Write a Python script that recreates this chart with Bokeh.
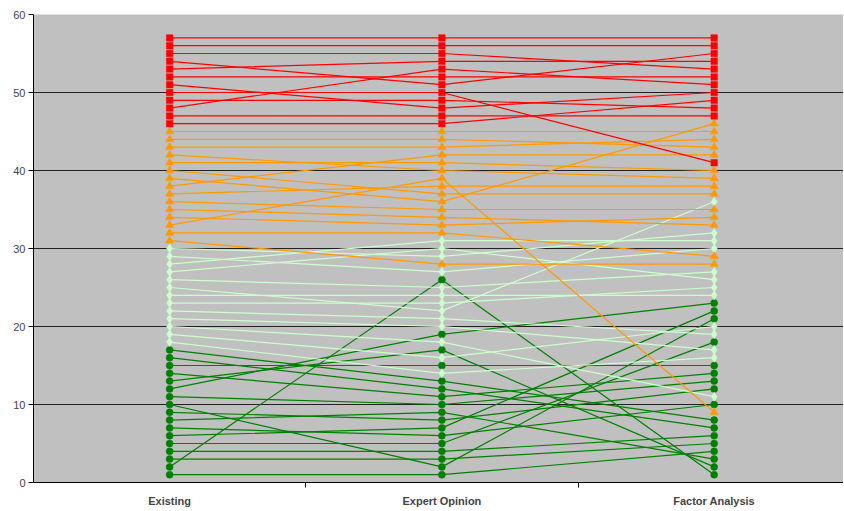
from bokeh.plotting import figure
from bokeh.models import Range1d, FixedTicker
from bokeh.embed import file_html
from bokeh.resources import INLINE

categories = ["Existing", "Expert Opinion", "Factor Analysis"]

# ranks of each item under the three methods (ordered by existing rank)
existing = list(range(1, 58))
expert = [1, 26, 3, 4, 5, 7, 6, 9, 8, 2, 10, 19, 17, 11, 15, 12, 13,
          14, 16, 18, 20, 21, 23, 24, 22, 25, 30, 31, 27, 29,
          28, 32, 39, 33, 34, 35, 38, 42, 36, 37, 41, 40, 43, 44, 45,
          46, 47, 53, 49, 50, 48, 52, 54, 51, 55, 56, 57]
factor = [4, 1, 5, 6, 18, 22, 10, 3, 12, 21, 13, 23, 2, 14, 15, 7, 8,
          16, 20, 11, 17, 19, 25, 24, 36, 27, 26, 31, 30, 32,
          28, 29, 9, 34, 33, 35, 38, 42, 46, 37, 40, 39, 44, 43, 45,
          49, 47, 51, 48, 41, 50, 52, 54, 55, 53, 56, 57]

# group boundaries by existing rank
group_names = ["low", "midlow", "midhigh", "high"]
group_min = [1, 18, 31, 46]
group_max = [17, 30, 45, 57]

styles = {
    "low": dict(color="#008000", marker="circle", size=7),
    "midlow": dict(color="#CCFFCC", marker="diamond", size=9),
    "midhigh": dict(color="#FF9900", marker="triangle", size=8),
    "high": dict(color="#FF0000", marker="square", size=6.5),
}

p = figure(width=843, height=510, output_backend="svg", toolbar_location=None,
           x_range=Range1d(0.5, 3.475), y_range=Range1d(0, 60),
           min_border_left=33, min_border_right=0, min_border_top=14,
           min_border_bottom=28)
p.background_fill_color = "#C0C0C0"
p.border_fill_color = "white"
p.outline_line_color = None

xpos = [1, 2, 3]

for g, lo, hi in zip(group_names, group_min, group_max):
    st = styles[g]
    xs, ys, px, py = [], [], [], []
    for e, x, f in zip(existing, expert, factor):
        if lo <= e <= hi:
            xs.append(xpos)
            ys.append([e, x, f])
            px.extend(xpos)
            py.extend([e, x, f])
    p.multi_line(xs=xs, ys=ys, line_color=st["color"], line_width=1.2)
    p.scatter(x=px, y=py, marker=st["marker"], size=st["size"],
              fill_color=st["color"], line_color=st["color"], line_width=0.5)

# axes
p.xaxis.ticker = FixedTicker(ticks=xpos, minor_ticks=[1.5, 2.5])
p.xaxis.major_label_overrides = {1: categories[0], 2: categories[1], 3: categories[2]}
p.xaxis.major_tick_line_color = None
p.xaxis.major_tick_out = 0
p.xaxis.minor_tick_out = 5
p.xaxis.minor_tick_in = 0
p.xaxis.minor_tick_line_color = "black"
p.xaxis.major_label_standoff = 7
p.xaxis.major_label_text_font = "Liberation Sans"
p.xaxis.major_label_text_font_style = "bold"
p.xaxis.major_label_text_font_size = "11px"
p.xaxis.axis_line_color = "black"

p.yaxis.ticker = FixedTicker(ticks=[0, 10, 20, 30, 40, 50, 60], minor_ticks=[])
p.yaxis.major_tick_out = 5
p.yaxis.major_tick_in = 0
p.yaxis.major_label_standoff = 3
p.yaxis.major_label_text_font = "Liberation Sans"
p.yaxis.major_label_text_font_size = "11px"
p.yaxis.axis_line_color = "black"
p.yaxis.minor_tick_line_color = None

p.xgrid.grid_line_color = None
p.ygrid.ticker = FixedTicker(ticks=[10, 20, 30, 40, 50, 60])
p.ygrid.grid_line_color = "#222222"
p.ygrid.grid_line_width = 1

open("out.html", "w").write(file_html(p, INLINE))
